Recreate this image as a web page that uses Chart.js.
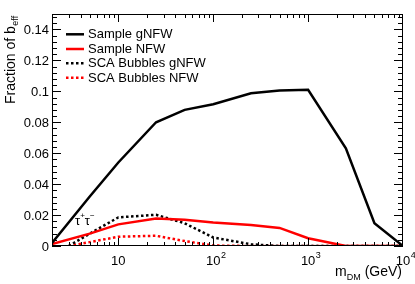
<!DOCTYPE html>
<html>
<head>
<meta charset="utf-8">
<script src="https://cdn.jsdelivr.net/npm/chart.js@4.4.1/dist/chart.umd.min.js"></script>
<style>
html,body{margin:0;padding:0;background:#fff;}
#wrap{width:415px;height:284px;position:relative;}
</style>
</head>
<body>
<div id="wrap"><canvas id="c" width="415" height="284"></canvas></div>
<script>
// ---- data ----
const massSample = [2, 5, 10, 25, 50, 100, 250, 500, 1000, 2500, 5000, 10000];
const massSCA = [3, 5, 10, 25, 50, 100, 250, 500, 1000, 2500, 5000, 10000];
const sampleGNFW = [0.002, 0.032, 0.054, 0.080, 0.088, 0.0917, 0.0988, 0.1005, 0.101, 0.0632, 0.0147, 0.0];
const sampleNFW  = [0.0013, 0.008, 0.014, 0.0178, 0.0170, 0.0152, 0.0135, 0.0117, 0.005, 0.0, 0.0, 0.0];
const scaGNFW    = [0.0, 0.008, 0.0185, 0.0202, 0.0147, 0.0055, 0.0011, 0.0, 0.0, 0.0, 0.0, 0.0];
const scaNFW     = [0.0, 0.0025, 0.006, 0.0066, 0.0032, 0.0003, 0.0, 0.0, 0.0, 0.0, 0.0, 0.0];
const seriesNames = ["Sample gNFW", "Sample NFW", "SCA Bubbles gNFW", "SCA Bubbles NFW"];
const yTickLabels = ["0", "0.02", "0.04", "0.06", "0.08", "0.1", "0.12", "0.14"];
const xTickDecades = [10, 100, 1000, 10000];
const xTickLabels = [["10",""], ["10","2"], ["10","3"], ["10","4"]];

function pts(xs, ys){ return xs.map((x,i)=>({x:x, y:ys[i]})); }

const FONT = '"Liberation Sans", Arial, Helvetica, sans-serif';
const styles = [
  {color:'#000000', dash:[]},
  {color:'#ff0000', dash:[]},
  {color:'#000000', dash:[2.5,2.5]},
  {color:'#ff0000', dash:[2.5,2.5]}
];
const dataSets = [pts(massSample, sampleGNFW), pts(massSample, sampleNFW), pts(massSCA, scaGNFW), pts(massSCA, scaNFW)];

const decor = {
  id:'decor',
  afterDraw(chart){
    const ctx = chart.ctx;
    const xs = chart.scales.x, ys = chart.scales.y;
    const a = chart.chartArea;
    ctx.save();
    ctx.strokeStyle = '#000'; ctx.fillStyle = '#000';
    // frame
    ctx.lineWidth = 1;
    ctx.strokeRect(Math.round(a.left)+0.5, Math.round(a.top)+0.5, Math.round(a.right-a.left)-1, Math.round(a.bottom-a.top)-1);
    // y ticks
    ctx.beginPath();
    for (let i=0;i<=37;i++){
      const v = i*0.004;
      if (v > 0.1501) break;
      const py = Math.round(ys.getPixelForValue(v))+0.5;
      const major = (i%5===0);
      const L = major ? 9 : 5;
      ctx.moveTo(a.left, py); ctx.lineTo(a.left+L, py);
      ctx.moveTo(a.right, py); ctx.lineTo(a.right-L, py);
    }
    // x ticks
    for (let d=1; d<=1000; d*=10){
      for (let k=1;k<=9;k++){
        const v = d*k;
        if (v < 2 || v > 10000) continue;
        const px = Math.round(xs.getPixelForValue(v))+0.5;
        const major = (k===1);
        const L = major ? 8 : 4;
        ctx.moveTo(px, a.bottom); ctx.lineTo(px, a.bottom-L);
        ctx.moveTo(px, a.top); ctx.lineTo(px, a.top+L);
      }
    }
    ctx.stroke();
    // y tick labels
    ctx.font = '13px '+FONT;
    ctx.textAlign = 'right'; ctx.textBaseline = 'middle';
    yTickLabels.forEach((t,i)=>{
      ctx.fillText(t, a.left-3, ys.getPixelForValue(i*0.02)+1);
    });
    // x tick labels
    ctx.textBaseline = 'alphabetic';
    xTickDecades.forEach((v,i)=>{
      const px = xs.getPixelForValue(v);
      const [base, sup] = xTickLabels[i];
      ctx.font = '13px '+FONT;
      ctx.textAlign = 'center';
      ctx.fillText(base, px, 265);
      if (sup){
        const w = ctx.measureText(base).width;
        ctx.font = '9px '+FONT;
        ctx.textAlign = 'left';
        ctx.fillText(sup, px + w/2 + 0.5, 258);
      }
    });
    // x title: m_DM (GeV), right-aligned at 402
    ctx.textAlign = 'left';
    ctx.font = '14px '+FONT;
    const wm = ctx.measureText('m').width;
    const wg = ctx.measureText(' (GeV)').width;
    ctx.font = '9px '+FONT;
    const wd = ctx.measureText('DM').width;
    let x0 = 402 - (wm + wd + wg);
    ctx.font = '14px '+FONT;
    ctx.fillText('m', x0, 276);
    ctx.font = '9px '+FONT;
    ctx.fillText('DM', x0+wm, 280);
    ctx.font = '14px '+FONT;
    ctx.fillText(' (GeV)', x0+wm+wd, 276);
    // y title rotated
    ctx.save();
    ctx.translate(15, 104);
    ctx.rotate(-Math.PI/2);
    ctx.font = '14px '+FONT;
    ctx.fillText('Fraction of b', 0, 0);
    const wf = ctx.measureText('Fraction of b').width;
    ctx.font = '9px '+FONT;
    ctx.fillText('eff', wf+0.5, 3);
    ctx.restore();
    // tau label
    ctx.font = '13px '+FONT;
    let tx = 75;
    ctx.fillText('τ', tx, 225);
    let tw = ctx.measureText('τ').width;
    ctx.font = '8px '+FONT;
    ctx.fillText('+', tx+tw, 218);
    let pw = ctx.measureText('+').width;
    ctx.font = '13px '+FONT;
    ctx.fillText('τ', tx+tw+pw, 225);
    ctx.font = '8px '+FONT;
    ctx.fillText('−', tx+2*tw+pw, 218);
    // legend
    const rows = [34.3, 49, 63.3, 77.7];
    seriesNames.forEach((n,i)=>{
      ctx.save();
      ctx.strokeStyle = styles[i].color;
      ctx.lineWidth = 2.5;
      ctx.setLineDash(styles[i].dash);
      ctx.beginPath();
      ctx.moveTo(66, rows[i]); ctx.lineTo(84, rows[i]);
      ctx.stroke();
      ctx.restore();
      ctx.fillStyle = '#000';
      ctx.font = '13px '+FONT;
      ctx.textAlign = 'left'; ctx.textBaseline = 'middle';
      ctx.fillText(n, 88, rows[i]+0.5);
    });
    ctx.restore();
  }
};

new Chart(document.getElementById('c'), {
  type:'line',
  data:{
    datasets: dataSets.map((d,i)=>({
      label: seriesNames[i],
      data: d,
      borderColor: styles[i].color,
      backgroundColor: styles[i].color,
      borderDash: styles[i].dash,
      borderWidth: 2.5,
      pointRadius: 0,
      tension: 0,
      fill: false
    }))
  },
  options:{
    responsive:false,
    animation:false,
    devicePixelRatio:1,
    layout:{padding:{left:52, right:12, top:14, bottom:38}},
    plugins:{legend:{display:false}, tooltip:{enabled:false}},
    scales:{
      x:{type:'logarithmic', min:2, max:10000, display:false},
      y:{type:'linear', min:0, max:0.15, display:false}
    }
  },
  plugins:[decor]
});
</script>
</body>
</html>
